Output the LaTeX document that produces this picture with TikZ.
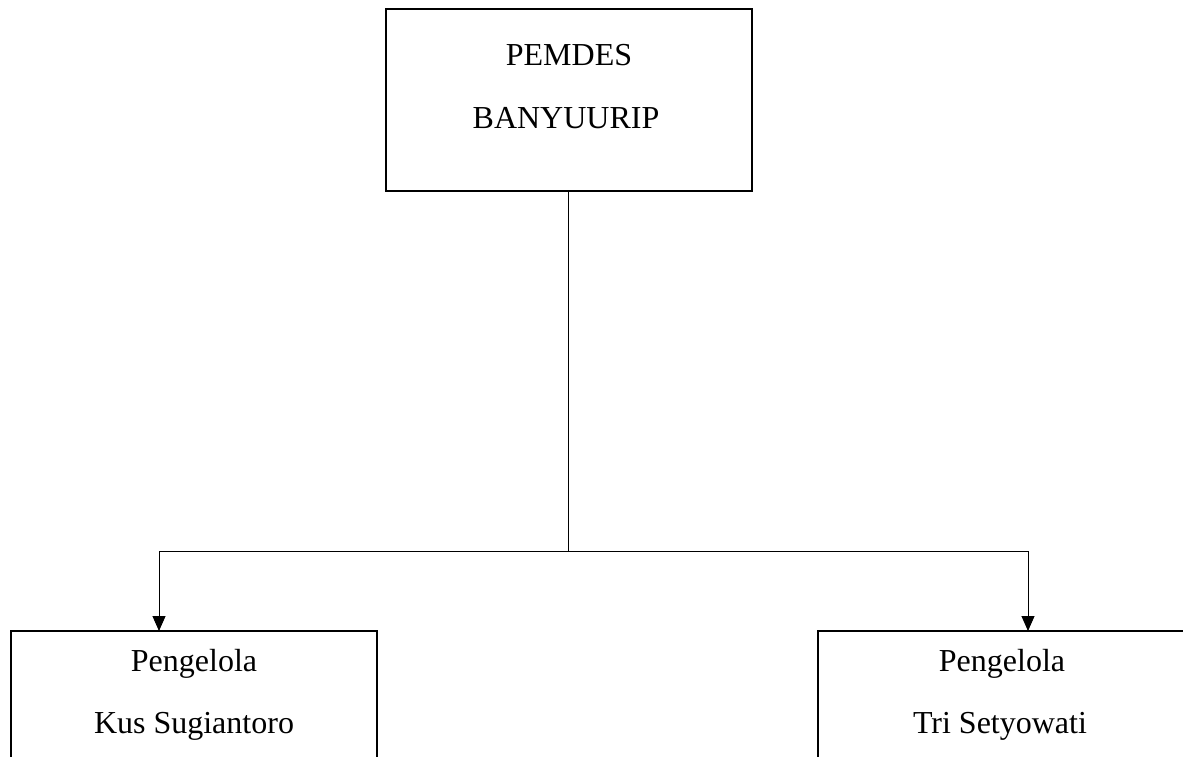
\documentclass[tikz,border=0pt]{standalone}
\usepackage{fontspec}
\setmainfont{Liberation Serif}
\usetikzlibrary{arrows.meta}
\begin{document}
\begin{tikzpicture}[x=1pt,y=-1pt,
  box/.style={draw=black,line width=2.2pt,rectangle,inner sep=0pt,outer sep=0pt},
  lbl/.style={anchor=base,inner sep=0pt,font=\fontsize{32}{38}\selectfont},
  conn/.style={line width=1pt,draw=black},
  arr/.style={conn,-{Triangle[length=15pt,width=13pt]}}]
\useasboundingbox (0,0) rectangle (1183,757);
\fill[white] (0,0) rectangle (1183,757);
\clip (0,0) rectangle (1183,757);
% boxes
\node[box,minimum width=366pt,minimum height=182pt] (top) at (569,100) {};
\node[box,minimum width=366pt,minimum height=200pt] (left) at (194,731) {};
\node[box,minimum width=372pt,minimum height=200pt] (right) at (1004,731) {};
% labels
\node[lbl] (t1) at (569,66) {PEMDES};
\node[lbl] (t2) at (566,129) {BANYUURIP};
\node[lbl] (l1) at (194,671) {Pengelola};
\node[lbl] (l2) at (194,733) {Kus Sugiantoro};
\node[lbl] (r1) at (1002,671) {Pengelola};
\node[lbl] (r2) at (1000,733) {Tri Setyowati};
% connectors
\coordinate (j) at (568,551);
\coordinate (jl) at (159,551);
\coordinate (jr) at (1028,551);
\draw[conn] (top.south -| j) -- (j);
\draw[conn] (jl) -- (jr);
\draw[arr] (jl) -- (jl |- left.north);
\draw[arr] (jr) -- (jr |- right.north);
\end{tikzpicture}
\end{document}
